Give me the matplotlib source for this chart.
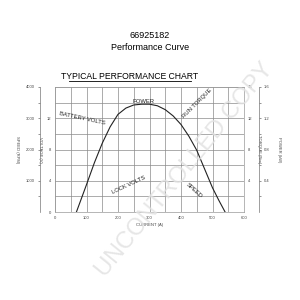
import matplotlib
matplotlib.use("Agg")
import matplotlib.pyplot as plt
import numpy as np

# Data
current_a = [68, 100, 125, 150, 175, 200, 225, 250, 275, 300, 325, 350, 375, 400, 425, 450, 475, 500, 520, 540]
power_kw = [0.0, 0.35, 0.63, 0.88, 1.09, 1.25, 1.33, 1.37, 1.38, 1.38, 1.36, 1.31, 1.23, 1.12, 0.97, 0.79, 0.55, 0.31, 0.15, 0.0]
x_ticks = [0, 100, 200, 300, 400, 500, 600]
volt_ticks = [0, 4, 8, 12]
speed_ticks = [1000, 2000, 3000, 4000]
torque_ticks = [4, 8, 12, 16]
power_ticks = [0.4, 0.8, 1.2, 1.6]

plt.rcParams['font.family'] = ['Liberation Sans', 'DejaVu Sans']
fig = plt.figure(figsize=(3, 3), dpi=100)
W, H = 300, 300
L, R, T, B = 55, 244, 87, 212
ax = fig.add_axes([L / W, 1 - B / H, (R - L) / W, (B - T) / H])

grid_c = '#8a8a8a'
ax.set_xlim(0, 600)
ax.set_ylim(0, 16)
ax.set_xticks(np.arange(0, 601, 50), minor=False)
ax.set_xticklabels([str(v) if v in x_ticks else '' for v in np.arange(0, 601, 50)])
ax.set_yticks(np.arange(0, 17, 2))
ax.set_yticklabels([str(v) if v in volt_ticks else '' for v in np.arange(0, 17, 2)])
ax.grid(True, color=grid_c, linewidth=0.5)
ax.tick_params(length=0, labelsize=3, pad=3, colors='#444444')
for s in ax.spines.values():
    s.set_color('#999999')
    s.set_linewidth(0.5)
ax.set_xlabel('CURRENT (A)', fontsize=3, labelpad=2, color='#444444')
ax.set_ylabel('VOLTAGE (V)', fontsize=3, rotation=270, labelpad=6, color='#444444')

# torque labels on right
ax_t = ax.twinx()
ax_t.set_ylim(0, 16)
ax_t.set_yticks(torque_ticks)
ax_t.tick_params(length=0, labelsize=3, pad=3, colors='#444444')
ax_t.set_ylabel('TORQUE (Nm)', fontsize=3, rotation=270, labelpad=6, color='#444444')
for s in ax_t.spines.values():
    s.set_visible(False)

# power axis
ax_p = ax.twinx()
ax_p.set_ylim(0, 1.6)
ax_p.spines['right'].set_position(('axes', (259 - L) / (R - L)))
for k in ['left', 'top', 'bottom']:
    ax_p.spines[k].set_visible(False)
ax_p.spines['right'].set_color('#777777')
ax_p.spines['right'].set_linewidth(0.5)
ax_p.set_yticks(power_ticks)
ax_p.set_yticks(np.arange(0.2, 1.61, 0.4), minor=True)
ax_p.tick_params(which='both', length=1.5, width=0.4, labelsize=3, pad=2, colors='#444444')
ax_p.set_ylabel('POWER (kW)', fontsize=3, rotation=270, labelpad=8, color='#444444')
ax_p.plot(current_a, power_kw, color='#222222', linewidth=0.8)

# speed axis
ax_s = ax.twinx()
ax_s.set_ylim(0, 4000)
ax_s.yaxis.set_ticks_position('left')
ax_s.yaxis.set_label_position('left')
ax_s.spines['left'].set_position(('axes', (40 - L) / (R - L)))
for k in ['right', 'top', 'bottom']:
    ax_s.spines[k].set_visible(False)
ax_s.spines['left'].set_color('#777777')
ax_s.spines['left'].set_linewidth(0.5)
ax_s.set_yticks(speed_ticks)
ax_s.set_yticks(np.arange(500, 4000, 1000), minor=True)
ax_s.tick_params(which='both', length=1.5, width=0.4, labelsize=3, pad=2, colors='#444444')
ax_s.set_ylabel('SPEED (RPM)', fontsize=3, rotation=270, labelpad=8, color='#444444')

# curve labels
ax.text(85, 12.0, 'BATTERY VOLTS', fontsize=4.2, rotation=-12, ha='center', va='center', color='#222222')
ax.text(280, 14.1, 'POWER', fontsize=4.2, ha='center', va='center', color='#222222')
ax.text(450, 13.9, 'RUN TORQUE', fontsize=4.2, rotation=45, ha='center', va='center', color='#222222')
ax.text(235, 3.4, 'LOCK VOLTS', fontsize=4.2, rotation=25, ha='center', va='center', color='#222222')
ax.text(440, 2.8, 'SPEED', fontsize=4.2, rotation=-42, ha='center', va='center', color='#222222')

# titles
fig.text(0.5, 1 - 35 / H, '66925182', fontsize=6.5, ha='center', va='center')
fig.text(0.5, 1 - 47 / H, 'Performance Curve', fontsize=6.5, ha='center', va='center')
fig.text(130 / W, 1 - 77 / H, 'TYPICAL PERFORMANCE CHART', fontsize=6.2, ha='center', va='center')
fig.add_artist(plt.Line2D([69 / W, 191 / W], [1 - 81 / H, 1 - 81 / H], color='black', linewidth=0.6))

# watermark
fig.text(185 / W, 1 - 170 / H, 'UNCONTROLLED COPY', fontsize=17, rotation=51,
         ha='center', va='center', color='#e2e2e2', alpha=0.85, zorder=10)

fig.savefig('out.png', dpi=100)
